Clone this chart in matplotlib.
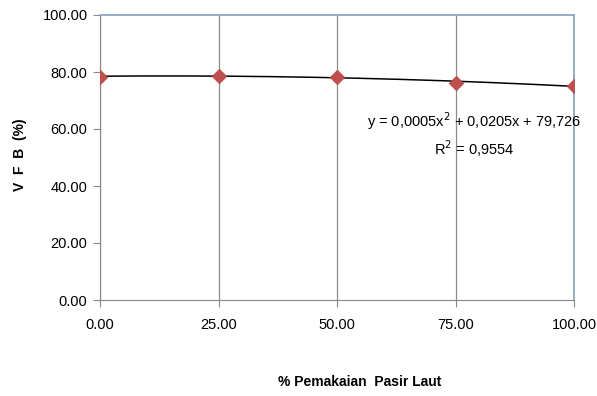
import numpy as np
import matplotlib.pyplot as plt

# VFB against sea-sand usage
pasir_laut = [0.0, 25.0, 50.0, 75.0, 100.0]
vfb = [78.4, 78.7, 78.3, 76.2, 75.2]
x_ticks = [0, 25, 50, 75, 100]
y_ticks = [0, 20, 40, 60, 80, 100]

plt.rcParams['font.family'] = ['Liberation Sans', 'DejaVu Sans']

fig = plt.figure(figsize=(5.97, 3.96), dpi=100)
ax = fig.add_axes([100 / 597, 1 - 300 / 396, 474 / 597, 285 / 396])

# polynomial trend line (order 2)
coef = np.polyfit(pasir_laut, vfb, 2)
xs = np.linspace(0, 100, 200)
ax.plot(xs, np.polyval(coef, xs), color='black', lw=1.1, zorder=3)
ax.scatter(pasir_laut, vfb, marker='D', s=55, color='#C0504D', zorder=4,
           edgecolors='#B04541', linewidths=0.5)

ax.set_xlim(0, 100)
ax.set_ylim(0, 100)
ax.set_xticks(x_ticks)
ax.set_yticks(y_ticks)
ax.set_xticklabels(['%.2f' % v for v in x_ticks], fontsize=10.5)
ax.set_yticklabels(['%.2f' % v for v in y_ticks], fontsize=10.5)
ax.tick_params(direction='out', length=5, color='#888888', pad=4)
ax.tick_params(axis='x', pad=8)

ax.grid(axis='x', color='#8C8C8C', lw=0.9)
ax.set_axisbelow(True)
for side in ['left', 'bottom']:
    ax.spines[side].set_color('#888888')
for side in ['top', 'right']:
    ax.spines[side].set_color('#8EA6C6')
    ax.spines[side].set_linewidth(1.3)

fig.text(20 / 597, 1 - 155 / 396, 'V  F  B  (%)', rotation=90, ha='center',
         va='center', fontsize=10, fontweight='bold')
fig.text(360 / 597, 1 - 382 / 396, '% Pemakaian  Pasir Laut', ha='center',
         va='center', fontsize=10, fontweight='bold')

ax.text(79, 58, 'y = 0,0005x$^{2}$ + 0,0205x + 79,726\nR$^{2}$ = 0,9554',
        ha='center', va='center', fontsize=10.5, linespacing=1.4,
        multialignment='center')

fig.savefig('out.png', dpi=100)
